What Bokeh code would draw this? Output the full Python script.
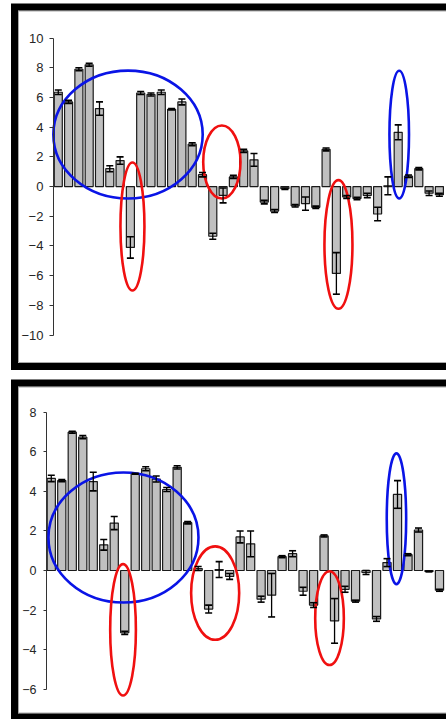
from bokeh.plotting import figure
from bokeh.models import (ColumnDataSource, Range1d, LinearAxis, FixedTicker,
                          Whisker, TeeHead, BoxAnnotation)
from bokeh.layouts import column
from bokeh.embed import file_html
from bokeh.resources import INLINE

# ---------------- data ----------------
top_vals = [6.35, 5.7, 7.9, 8.2, 5.25, 1.2, 1.75, -4.1, 6.3, 6.2, 6.35, 5.2, 5.7, 2.85,
            0.8, -3.35, -0.6, 0.65, 2.4, 1.8, -1.05, -1.65, -0.15, -1.3, -1.15, -1.4,
            2.5, -5.85, -0.7, -0.8, -0.6, -1.85, 0.05, 3.65, 0.7, 1.2, -0.45, -0.55]
top_errs = [0.15, 0.1, 0.1, 0.1, 0.45, 0.2, 0.25, 0.72, 0.1, 0.1, 0.15, 0.05, 0.2, 0.1,
            0.15, 0.2, 0.5, 0.1, 0.1, 0.43, 0.12, 0.1, 0.05, 0.08, 0.45, 0.08,
            0.1, 1.4, 0.1, 0.08, 0.15, 0.45, 0.6, 0.5, 0.08, 0.08, 0.15, 0.1]

bot_vals = [4.66, 4.55, 7.0, 6.75, 4.5, 1.3, 2.4, -3.15, 4.9, 5.15, 4.63, 4.1, 5.22, 2.42,
            0.1, -1.95, 0.05, -0.3, 1.7, 1.35, -1.45, -1.25, 0.7, 0.85, -1.05, -1.75,
            1.75, -2.55, -0.95, -1.55, -0.1, -2.45, 0.4, 3.85, 0.8, 2.05, -0.05, -1.0]
bot_errs = [0.16, 0.05, 0.05, 0.08, 0.47, 0.27, 0.33, 0.08, 0.02, 0.1, 0.15, 0.1, 0.08, 0.06,
            0.1, 0.2, 0.4, 0.15, 0.3, 0.65, 0.15, 1.1, 0.05, 0.15, 0.2, 0.12,
            0.05, 1.13, 0.15, 0.05, 0.1, 0.12, 0.2, 0.7, 0.05, 0.1, 0.02, 0.05]

top_ticks = [-10, -8, -6, -4, -2, 0, 2, 4, 6, 8, 10]
bot_ticks = [-6, -4, -2, 0, 2, 4, 6, 8]

# annotation ellipses: (x center, y center, width, height) in data units
top_blue = dict(x=[6.77, 33.1], y=[3.5, 3.5], w=[14.5, 1.9], h=[8.62, 8.62])
top_red = dict(x=[7.2, 15.88, 27.2], y=[-2.69, 1.65, -3.9], w=[2.33, 3.62, 2.72], h=[8.62, 4.92, 8.68])
bot_blue = dict(x=[6.88, 32.9], y=[1.67, 2.62], w=[14.3, 1.85], h=[6.58, 6.62])
bot_red = dict(x=[6.84, 15.62, 26.52], y=[-3.0, -1.14, -2.41], w=[2.45, 4.58, 2.73], h=[6.65, 4.73, 4.75])

BAR_FILL = "#c0c0c0"


def panel(vals, errs, ticks, blue, red, height, xr, yr, axis_x, bounds,
          font_size, frame_box, tick_out, standoff):
    n = len(vals)
    xs = list(range(n))
    src = ColumnDataSource(dict(
        x=xs, top=vals,
        upper=[v + e for v, e in zip(vals, errs)],
        lower=[v - e for v, e in zip(vals, errs)],
    ))
    p = figure(width=446, height=height, output_backend="svg", toolbar_location=None,
               x_axis_location=None, y_axis_location=None,
               x_range=Range1d(*xr), y_range=Range1d(*yr),
               min_border_left=0, min_border_right=0, min_border_top=0,
               min_border_bottom=0, outline_line_color=None,
               background_fill_color="white", border_fill_color="white")
    p.grid.visible = False

    p.vbar(x="x", top="top", bottom=0, width=0.78, source=src,
           fill_color=BAR_FILL, line_color="#1a1a1a", line_width=1.2)

    w = Whisker(source=src, base="x", upper="upper", lower="lower",
                level="overlay", line_color="black", line_width=1.3,
                upper_head=TeeHead(size=7, line_color="black", line_width=1.6),
                lower_head=TeeHead(size=7, line_color="black", line_width=1.6))
    p.add_layout(w)

    p.ellipse(x=blue["x"], y=blue["y"], width=blue["w"], height=blue["h"],
              fill_alpha=0, line_color="#0a14e6", line_width=2.6)
    p.ellipse(x=red["x"], y=red["y"], width=red["w"], height=red["h"],
              fill_alpha=0, line_color="#f01010", line_width=2.6)

    ax = LinearAxis(fixed_location=axis_x, bounds=bounds,
                    ticker=FixedTicker(ticks=ticks, minor_ticks=[]))
    ax.axis_line_color = "#333333"
    ax.axis_line_width = 1
    ax.major_tick_line_color = "#333333"
    ax.major_tick_out = tick_out
    ax.major_tick_in = 0
    ax.minor_tick_line_color = None
    ax.major_label_text_font = "Liberation Sans"
    ax.major_label_text_font_size = font_size
    ax.major_label_text_color = "#262626"
    ax.major_label_standoff = standoff
    p.add_layout(ax, "left")

    l, t, r, b = frame_box
    p.add_layout(BoxAnnotation(left=l + 4, right=r, top=t + 4, bottom=b - 4,
                               left_units="canvas", right_units="canvas",
                               top_units="canvas", bottom_units="canvas",
                               fill_alpha=0, line_color="#a8a8a8", line_alpha=1,
                               line_width=1, line_join="miter", level="overlay"))
    p.add_layout(BoxAnnotation(left=l, right=r, top=t, bottom=b,
                               left_units="canvas", right_units="canvas",
                               top_units="canvas", bottom_units="canvas",
                               fill_alpha=0, line_color="black", line_alpha=1,
                               line_width=7, line_join="miter", level="overlay"))
    return p


p1 = panel(top_vals, top_errs, top_ticks, top_blue, top_red, 374,
           xr=(-5.61, 37.69), yr=(-12.66, 12.53), axis_x=-0.47, bounds=(-10, 10),
           font_size="13px", frame_box=(14, 6.5, 490, 366), tick_out=4, standoff=6)
p2 = panel(bot_vals, bot_errs, bot_ticks, bot_blue, bot_red, 345,
           xr=(-4.84, 37.67), yr=(-7.54, 9.92), axis_x=-0.46, bounds=(-6, 8),
           font_size="12.5px", frame_box=(14, 8.5, 490, 342.5), tick_out=3, standoff=7)

layout = column(p1, p2, spacing=0)
open("out.html", "w").write(file_html(layout, INLINE))
